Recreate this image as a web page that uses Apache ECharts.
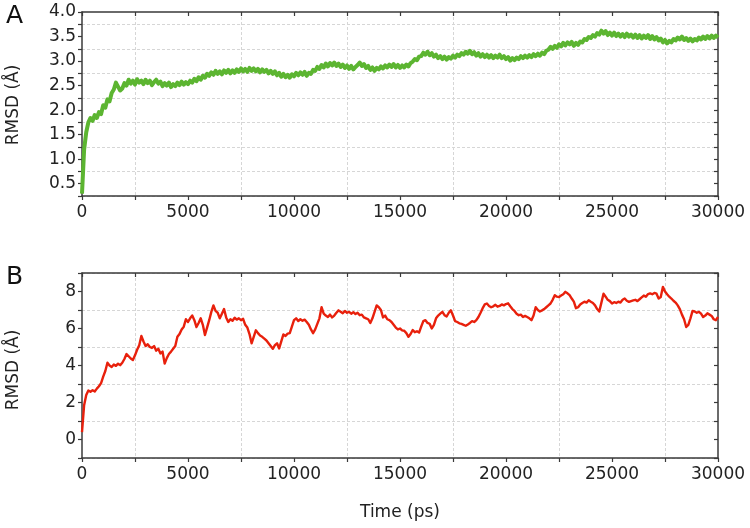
<!DOCTYPE html>
<html>
<head>
<meta charset="utf-8">
<script src="https://cdn.jsdelivr.net/npm/echarts@6/dist/echarts.min.js"></script>
<style>
html,body{margin:0;padding:0;background:#fff;}
#chart{width:750px;height:528px;}
</style>
</head>
<body>
<div id="chart"></div>
<script>
const sampleStepPs = 100;
const xTickLabels = [0, 5000, 10000, 15000, 20000, 25000, 30000];
const yTickLabelsA = [0.5, 1.0, 1.5, 2.0, 2.5, 3.0, 3.5, 4.0];
const yTickLabelsB = [0, 2, 4, 6, 8];

const rmsdA = [
0.30,1.20,1.55,1.75,1.84,1.78,1.90,1.84,1.96,1.92,
2.10,2.05,2.22,2.18,2.35,2.42,2.56,2.48,2.40,2.44,
2.55,2.50,2.62,2.54,2.60,2.52,2.63,2.56,2.60,2.53,
2.62,2.55,2.60,2.51,2.57,2.62,2.54,2.58,2.49,2.55,
2.50,2.56,2.47,2.53,2.49,2.56,2.51,2.58,2.52,2.57,
2.53,2.60,2.56,2.64,2.59,2.67,2.62,2.70,2.66,2.74,
2.70,2.77,2.72,2.80,2.74,2.79,2.73,2.81,2.76,2.82,
2.75,2.81,2.76,2.83,2.78,2.85,2.79,2.84,2.78,2.86,
2.80,2.85,2.79,2.84,2.77,2.83,2.78,2.82,2.75,2.80,
2.74,2.79,2.71,2.76,2.68,2.74,2.67,2.72,2.66,2.73,
2.69,2.76,2.71,2.77,2.72,2.78,2.70,2.76,2.74,2.82,
2.80,2.88,2.84,2.92,2.87,2.95,2.89,2.96,2.91,2.97,
2.90,2.95,2.88,2.93,2.86,2.91,2.84,2.90,2.83,2.88,
2.92,2.97,2.90,2.94,2.86,2.90,2.82,2.87,2.80,2.86,
2.83,2.89,2.85,2.91,2.87,2.93,2.88,2.94,2.87,2.92,
2.86,2.91,2.87,2.93,2.89,2.96,2.99,3.04,3.02,3.09,
3.10,3.17,3.13,3.19,3.12,3.16,3.09,3.13,3.06,3.10,
3.04,3.09,3.03,3.08,3.05,3.11,3.07,3.13,3.10,3.16,
3.13,3.19,3.15,3.21,3.14,3.18,3.11,3.16,3.09,3.14,
3.08,3.13,3.07,3.12,3.06,3.11,3.07,3.13,3.06,3.10,
3.04,3.08,3.01,3.06,3.02,3.07,3.04,3.10,3.06,3.11,
3.07,3.12,3.08,3.14,3.10,3.15,3.11,3.17,3.14,3.21,
3.23,3.29,3.25,3.31,3.27,3.34,3.30,3.37,3.32,3.38,
3.34,3.39,3.31,3.37,3.33,3.40,3.38,3.45,3.43,3.49,
3.47,3.53,3.50,3.57,3.54,3.62,3.56,3.61,3.53,3.58,
3.52,3.58,3.51,3.56,3.50,3.55,3.49,3.56,3.50,3.54,
3.48,3.54,3.47,3.53,3.46,3.52,3.47,3.53,3.45,3.51,
3.44,3.49,3.42,3.46,3.38,3.43,3.36,3.41,3.38,3.45,
3.42,3.48,3.44,3.50,3.43,3.47,3.41,3.46,3.40,3.45,
3.42,3.48,3.44,3.50,3.45,3.51,3.46,3.52,3.47,3.52,
3.48
];

const rmsdB = [
0.40,1.85,2.40,2.65,2.58,2.66,2.60,2.75,2.88,3.05,
3.40,3.70,4.15,4.00,3.92,4.05,3.98,4.10,4.02,4.15,
4.35,4.62,4.50,4.38,4.30,4.55,4.85,5.10,5.60,5.30,
5.05,5.15,5.00,4.95,5.05,4.80,4.90,4.65,4.75,4.10,
4.40,4.62,4.75,4.90,5.05,5.55,5.70,5.95,6.10,6.50,
6.35,6.55,6.70,6.45,6.08,6.30,6.55,6.20,5.65,6.05,
6.45,6.90,7.25,6.95,6.85,6.55,6.80,7.05,6.60,6.35,
6.50,6.42,6.58,6.48,6.55,6.45,6.52,6.20,6.05,5.70,
5.20,5.55,5.90,5.75,5.62,5.55,5.45,5.35,5.20,5.05,
4.90,5.10,5.20,4.92,5.30,5.68,5.60,5.72,5.75,6.10,
6.45,6.55,6.40,6.50,6.42,6.48,6.35,6.20,5.95,5.75,
5.95,6.25,6.55,7.15,6.80,6.70,6.62,6.75,6.60,6.70,
6.85,6.98,6.90,6.82,6.95,6.85,6.90,6.80,6.88,6.78,
6.85,6.72,6.75,6.60,6.55,6.50,6.30,6.55,6.90,7.25,
7.15,7.00,6.60,6.70,6.50,6.45,6.35,6.20,6.05,5.95,
6.00,5.90,5.88,5.75,5.55,5.70,5.92,5.80,5.85,5.78,
6.10,6.40,6.45,6.30,6.25,6.00,6.20,6.55,6.70,6.80,
6.90,6.72,6.65,6.85,6.98,6.70,6.40,6.35,6.28,6.25,
6.20,6.15,6.22,6.30,6.40,6.35,6.45,6.62,6.85,7.10,
7.30,7.35,7.22,7.15,7.20,7.28,7.18,7.22,7.30,7.25,
7.32,7.36,7.20,7.05,6.95,6.80,6.72,6.75,6.62,6.68,
6.62,6.55,6.45,6.70,7.15,7.00,6.92,6.98,7.05,7.15,
7.25,7.35,7.55,7.80,7.72,7.70,7.78,7.85,7.98,7.90,
7.80,7.62,7.45,7.10,7.15,7.30,7.38,7.45,7.40,7.53,
7.45,7.38,7.25,7.05,6.92,7.40,7.88,7.72,7.55,7.48,
7.35,7.42,7.38,7.45,7.40,7.55,7.62,7.50,7.44,7.48,
7.52,7.55,7.48,7.58,7.68,7.78,7.72,7.86,7.90,7.85,
7.92,7.88,7.62,7.70,8.25,8.00,7.85,7.72,7.62,7.50,
7.40,7.25,7.05,6.75,6.50,6.08,6.20,6.55,6.95,6.92,
6.85,6.90,6.80,6.62,6.70,6.82,6.75,6.68,6.50,6.45,
6.62
];

const toPairs = arr => arr.map((v, i) => [i * sampleStepPs, v]);

const FONT = 'DejaVu Sans';
const axisColor = '#3a3a3a';
const gridColor = '#d6d6d6';
const textColor = '#222';
const clear = 'rgba(0,0,0,0)';

function near(list, v) { return list.some(t => Math.abs(t - v) < 1e-6); }

function xAxes(gi) {
  return [
    {
      type: 'value', gridIndex: gi, position: 'bottom', min: 0, max: 30000, interval: 2500,
      axisLine: { show: true, onZero: false, lineStyle: { color: axisColor, width: 1.5 } },
      axisTick: { show: true, inside: false, length: 4, lineStyle: { color: axisColor, width: 1.2 } },
      axisLabel: { show: true, margin: 8, fontFamily: FONT, fontSize: 17, color: textColor,
        formatter: v => near(xTickLabels, v) ? String(v) : '' },
      splitLine: { show: true, lineStyle: { color: [clear, gridColor], width: 1, type: [3, 2] } }
    },
    {
      type: 'value', gridIndex: gi, position: 'top', min: 0, max: 30000, interval: 2500,
      axisLine: { show: true, onZero: false, lineStyle: { color: axisColor, width: 1.5 } },
      axisTick: { show: true, inside: true, length: 4, lineStyle: { color: axisColor, width: 1.2 } },
      axisLabel: { show: false },
      splitLine: { show: false }
    }
  ];
}

function yAxes(gi, min, max, interval, labels, fmt, colors) {
  return [
    {
      type: 'value', gridIndex: gi, position: 'left', min: min, max: max, interval: interval,
      axisLine: { show: true, onZero: false, lineStyle: { color: axisColor, width: 1.5 } },
      axisTick: { show: true, inside: false, length: 4, lineStyle: { color: axisColor, width: 1.2 } },
      axisLabel: { show: true, margin: 6, fontFamily: FONT, fontSize: 17, color: textColor,
        formatter: v => near(labels, v) ? fmt(v) : '' },
      splitLine: { show: true, lineStyle: { color: colors, width: 1, type: [3, 2] } }
    },
    {
      type: 'value', gridIndex: gi, position: 'right', min: min, max: max, interval: interval,
      axisLine: { show: true, onZero: false, lineStyle: { color: axisColor, width: 1.5 } },
      axisTick: { show: true, inside: true, length: 4, lineStyle: { color: axisColor, width: 1.2 } },
      axisLabel: { show: false },
      splitLine: { show: false }
    }
  ];
}

const chart = echarts.init(document.getElementById('chart'), null, { renderer: 'canvas' });

chart.setOption({
  animation: false,
  backgroundColor: '#fff',
  grid: [
    { left: 82, top: 12, width: 636, height: 184 },
    { left: 82, top: 273, width: 636, height: 185 }
  ],
  xAxis: [].concat(xAxes(0), xAxes(1)),
  yAxis: [].concat(
    yAxes(0, 0.25, 4.0, 0.25, yTickLabelsA, v => v.toFixed(1), [gridColor, clear]),
    yAxes(1, -1, 9, 1, yTickLabelsB, v => String(v), [gridColor, clear])
  ),
  series: [
    {
      type: 'line', xAxisIndex: 0, yAxisIndex: 0, data: toPairs(rmsdA),
      showSymbol: false, symbol: 'none', smooth: false,
      lineStyle: { color: '#5cb531', width: 4, join: 'round' }, z: 5
    },
    {
      type: 'line', xAxisIndex: 2, yAxisIndex: 2, data: toPairs(rmsdB),
      showSymbol: false, symbol: 'none', smooth: false,
      lineStyle: { color: '#e8200c', width: 2.4, join: 'round' }, z: 5
    }
  ],
  graphic: [
    { type: 'text', left: 6, top: 4, style: { text: 'A', font: '25px "DejaVu Sans"', fill: '#111' } },
    { type: 'text', left: 6, top: 265, style: { text: 'B', font: '25px "DejaVu Sans"', fill: '#111' } },
    { type: 'text', x: 14, y: 105, rotation: Math.PI / 2,
      style: { text: 'RMSD (Å)', font: '17px "DejaVu Sans"', fill: textColor, align: 'center', verticalAlign: 'middle' } },
    { type: 'text', x: 14, y: 370, rotation: Math.PI / 2,
      style: { text: 'RMSD (Å)', font: '17px "DejaVu Sans"', fill: textColor, align: 'center', verticalAlign: 'middle' } },
    { type: 'text', x: 400, y: 513,
      style: { text: 'Time (ps)', font: '17px "DejaVu Sans"', fill: textColor, align: 'center', verticalAlign: 'middle' } }
  ]
});
</script>
</body>
</html>
